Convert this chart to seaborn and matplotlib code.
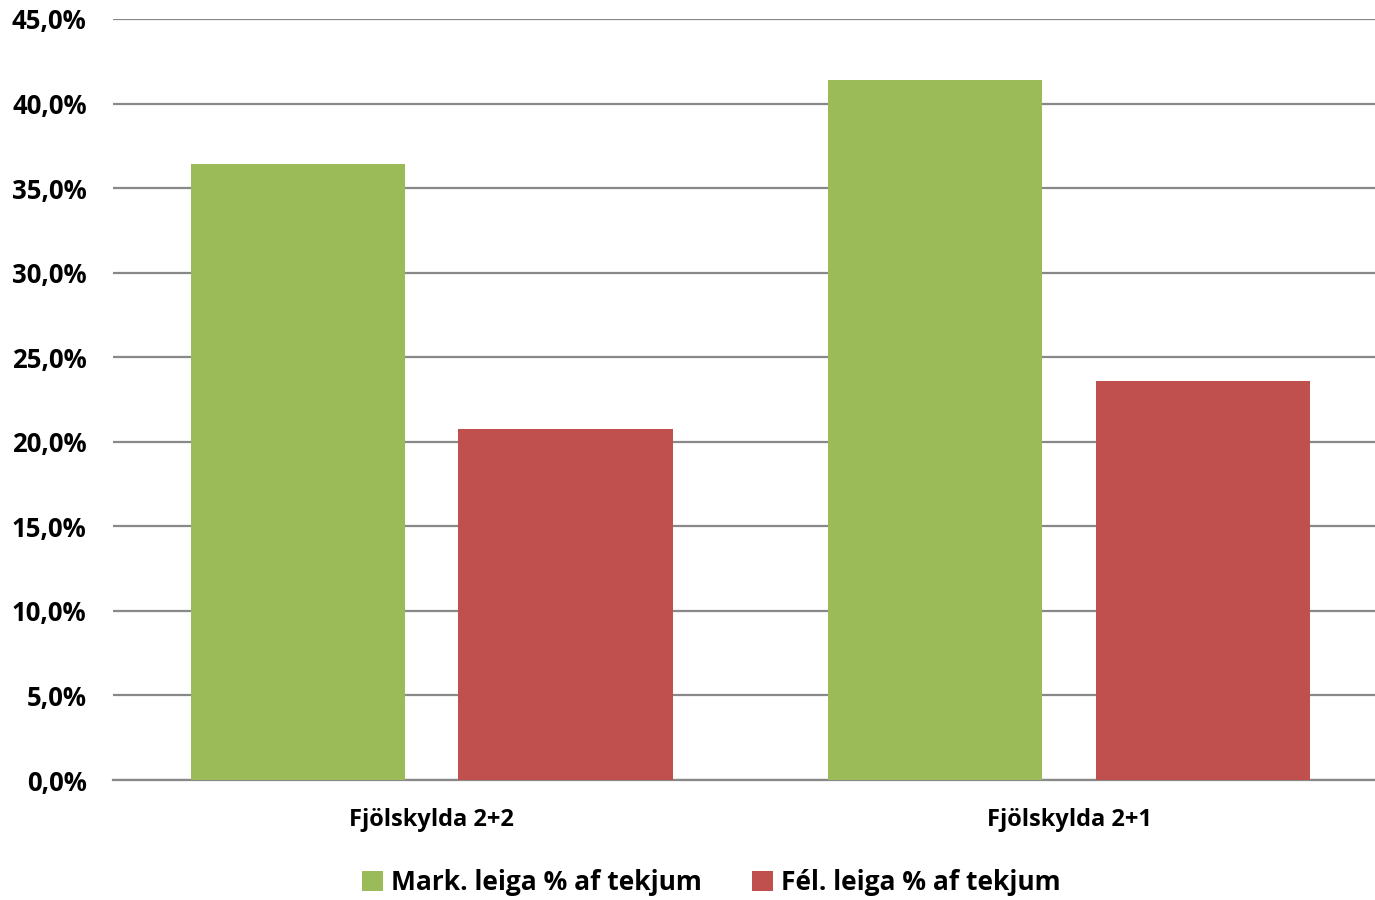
import pandas as pd
import matplotlib
matplotlib.use("Agg")
import matplotlib.pyplot as plt
import seaborn as sns
from matplotlib.ticker import FuncFormatter, MultipleLocator
from matplotlib.patches import Patch

# Data
categories = ["Fjölskylda 2+2", "Fjölskylda 2+1"]
series_names = ["Mark. leiga % af tekjum", "Fél. leiga % af tekjum"]
mark_leiga = [36.45, 41.4]
fel_leiga = [20.75, 23.6]
colors = ["#9BBB59", "#C0504D"]

df = pd.DataFrame({
    "cat": categories * 2,
    "series": [series_names[0]] * 2 + [series_names[1]] * 2,
    "value": mark_leiga + fel_leiga,
})

sns.set_style("white")
plt.rcParams["font.family"] = ["Open Sans", "DejaVu Sans"]
plt.rcParams["text.color"] = "black"

fig = plt.figure(figsize=(13.75, 9), dpi=100)
ax = fig.add_axes([0.0822, 0.1333, 0.9178, 0.8456])

sns.barplot(data=df, x="cat", y="value", hue="series", palette=colors,
            width=0.84, gap=0.2, saturation=1, linewidth=0,
            ax=ax, legend=False, zorder=3)

ax.set_ylim(0, 45)
ax.set_xlim(-0.5, 1.48)
ax.yaxis.set_major_locator(MultipleLocator(5))
ax.yaxis.set_major_formatter(FuncFormatter(lambda v, p: f"{v:.1f}%".replace(".", ",")))
ax.grid(axis="y", color="#888888", linewidth=1.6, zorder=0)
ax.set_axisbelow(True)
for s in ["top", "right", "left"]:
    ax.spines[s].set_visible(False)
ax.spines["bottom"].set_color("#888888")
ax.spines["bottom"].set_linewidth(1.6)

ax.set_xlabel("")
ax.set_ylabel("")
ax.tick_params(axis="both", length=0, labelcolor="black")
ax.tick_params(axis="y", pad=19)
ax.tick_params(axis="x", pad=20)
for lbl in ax.get_yticklabels():
    lbl.set_fontsize(18.5)
    lbl.set_fontweight("bold")
for lbl in ax.get_xticklabels():
    lbl.set_fontsize(17)
    lbl.set_fontweight("bold")

handles = [Patch(facecolor=c, edgecolor="none") for c in colors]
fig.legend(handles, series_names, loc="center", bbox_to_anchor=(0.517, 0.019),
           ncol=2, frameon=False, handlelength=0.8, handleheight=0.8,
           handletextpad=0.3, columnspacing=1.9,
           prop={"size": 19, "weight": "bold"})

fig.savefig("out.png", dpi=100)
